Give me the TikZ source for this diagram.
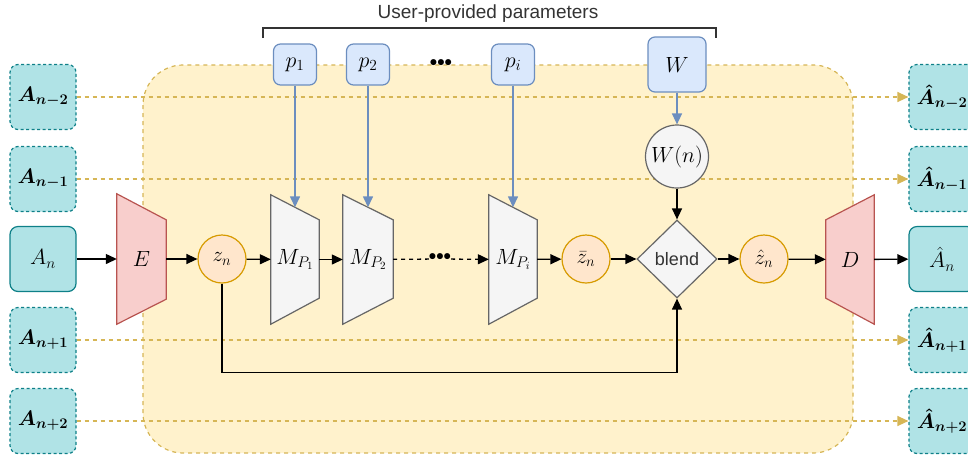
\RequirePackage{fix-cm}
\documentclass[tikz,border=0pt]{standalone}
\usepackage{amsmath}
\usepackage{fontspec}
\newfontfamily\sansf{Liberation Sans}
\usetikzlibrary{arrows.meta,calc,shapes.geometric,backgrounds}
\definecolor{tealF}{HTML}{B0E3E6}
\definecolor{tealS}{HTML}{0E8088}
\definecolor{blueF}{HTML}{DAE8FC}
\definecolor{blueS}{HTML}{6C8EBF}
\definecolor{yelF}{HTML}{FFF2CC}
\definecolor{yelS}{HTML}{D6B656}
\definecolor{oraF}{HTML}{FFE6CC}
\definecolor{oraS}{HTML}{D79B00}
\definecolor{redF}{HTML}{F8CECC}
\definecolor{redS}{HTML}{B85450}
\definecolor{grayF}{HTML}{F5F5F5}
\definecolor{grayS}{HTML}{666666}
\definecolor{txt}{HTML}{333333}
\tikzset{
  abox/.style={rounded corners=8pt, draw=tealS, fill=tealF, line width=1.2pt,
    minimum width=66pt, minimum height=65pt, inner sep=0pt, font=\fontsize{21}{25}\selectfont},
  dbox/.style={abox, dash pattern=on 3pt off 2.5pt},
  pbox/.style={rounded corners=7pt, draw=blueS, fill=blueF, line width=1.2pt,
    minimum width=43pt, minimum height=41pt, inner sep=0pt, font=\fontsize{22}{26}\selectfont},
  zcirc/.style={circle, draw=oraS, fill=oraF, line width=1.2pt, minimum size=48pt,
    inner sep=0pt, font=\fontsize{21}{25}\selectfont},
  trapbox/.style={minimum width=48pt, minimum height=129pt, inner sep=0pt,
    font=\fontsize{22}{26}\selectfont},
  redtrap/.style={draw=redS, fill=redF, line width=1.2pt},
  graytrap/.style={draw=grayS, fill=grayF, line width=1.2pt},
  blk/.style={draw=black, line width=1.3pt, -{Triangle[length=11pt,width=10pt]}},
  bluearr/.style={draw=blueS, line width=1.4pt, -{Triangle[length=11pt,width=10pt]}},
  yline/.style={draw=yelS, line width=1.3pt, dash pattern=on 4pt off 4pt,
    -{Triangle[length=11pt,width=10pt,fill=yelS]}},
  dotsnode/.style={inner sep=0pt, font=\sansf\bfseries\fontsize{21}{24}\selectfont},
}
\begin{document}
\begin{tikzpicture}[x=1pt,y=-1pt]
\useasboundingbox (0,0) rectangle (968,459);

% left boxes
\node[dbox] (am2) at (43,97) {$\boldsymbol{A_{n-2}}$};
\node[dbox] (am1) at (43,179) {$\boldsymbol{A_{n-1}}$};
\node[abox, font=\fontsize{22}{26}\selectfont] (a0) at (43,259) {$A_n$};
\node[dbox] (ap1) at (43,340) {$\boldsymbol{A_{n+1}}$};
\node[dbox] (ap2) at (43,421) {$\boldsymbol{A_{n+2}}$};
% right boxes
\node[dbox] (bm2) at (942,97) {$\boldsymbol{\hat{A}_{n-2}}$};
\node[dbox] (bm1) at (942,179) {$\boldsymbol{\hat{A}_{n-1}}$};
\node[abox, font=\fontsize{22}{26}\selectfont] (b0) at (942,259) {$\hat{A}_n$};
\node[dbox] (bp1) at (942,340) {$\boldsymbol{\hat{A}_{n+1}}$};
\node[dbox] (bp2) at (942,421) {$\boldsymbol{\hat{A}_{n+2}}$};

% encoder
\node[trapbox, minimum width=49pt, minimum height=130pt] (E) at (141.5,259) {};
\draw[redtrap] (E.north west) -- ($(E.north east)+(0pt,-26pt)$) -- ($(E.south east)+(0pt,25pt)$) -- (E.south west) -- cycle;
\node[font=\fontsize{22}{26}\selectfont] (Et) at (E) {$E$};

\node[zcirc] (zn) at (222,259) {$z_n$};

% mapping blocks
\node[trapbox] (M1) at (295,259.5) {};
\draw[graytrap] (M1.north west) -- ($(M1.north east)+(0pt,-25pt)$) -- ($(M1.south east)+(0pt,26pt)$) -- (M1.south west) -- cycle;
\node[font=\fontsize{22}{26}\selectfont] (M1t) at (M1) {$M_{P_1}$};
\coordinate (M1top) at ($(M1.north west)!0.5!($(M1.north east)+(0pt,-25pt)$)$);

\node[trapbox, minimum width=50pt] (M2) at (368,259.5) {};
\draw[graytrap] (M2.north west) -- ($(M2.north east)+(0pt,-25pt)$) -- ($(M2.south east)+(0pt,26pt)$) -- (M2.south west) -- cycle;
\node[font=\fontsize{22}{26}\selectfont] (M2t) at (M2) {$M_{P_2}$};
\coordinate (M2top) at ($(M2.north west)!0.5!($(M2.north east)+(0pt,-25pt)$)$);

\node[trapbox] (Mi) at (513,259.5) {};
\draw[graytrap] (Mi.north west) -- ($(Mi.north east)+(0pt,-25pt)$) -- ($(Mi.south east)+(0pt,26pt)$) -- (Mi.south west) -- cycle;
\node[font=\fontsize{22}{26}\selectfont] (Mit) at (Mi) {$M_{P_i}$};
\coordinate (Mitop) at ($(Mi.north west)!0.5!($(Mi.north east)+(0pt,-25pt)$)$);

\node[dotsnode] (dots2) at (440,259) {•••};

\node[zcirc] (zb) at (586,259) {$\bar{z}_n$};
\node[diamond, draw=grayS, fill=grayF, line width=1.2pt, minimum width=80pt, minimum height=78pt,
  inner sep=0pt, text=txt, font=\sansf\fontsize{18}{20}\selectfont] (blend) at (677,259) {blend};
\node[zcirc] (zh) at (764,259) {$\hat{z}_n$};

% decoder
\node[trapbox] (D) at (850,259.5) {};
\draw[redtrap] ($(D.north west)+(0pt,-25pt)$) -- (D.north east) -- (D.south east) -- ($(D.south west)+(0pt,26pt)$) -- cycle;
\node[font=\fontsize{22}{26}\selectfont] (Dt) at (D) {$D$};

% parameters
\node[pbox] (p1) at (295,64.5) {$p_1$};
\node[pbox] (p2) at (368,64.5) {$p_2$};
\node[pbox] (pi) at (513,64.5) {$p_i$};
\node[dotsnode] (dots1) at (441,65) {•••};
\node[pbox, minimum width=58pt, minimum height=55pt] (W) at (677,64.5) {$W$};
\node[circle, draw=grayS, fill=grayF, line width=1.2pt, minimum size=63pt, inner sep=0pt,
  font=\fontsize{22}{26}\selectfont] (Wn) at (677,156.5) {$W(n)$};

% bracket and title
\node[text=txt, font=\sansf\fontsize{19}{22}\selectfont] (title) at (488,14) {User-provided parameters};
\coordinate (brl) at (263,38);
\coordinate (brr) at (716,38);
\draw[txt, line width=1.3pt] (brl) -- ++(0pt,10pt) -| (brr);

% connectors
\draw[blk] (a0) -- (E);
\draw[blk] (E) -- (zn);
\draw[blk] (zn) -- (M1);
\draw[blk] (M1) -- (M2);
\draw[black, line width=1.3pt, dash pattern=on 4pt off 4pt] (M2) -- (dots2);
\draw[blk, dash pattern=on 4pt off 4pt] (dots2) -- (Mi);
\draw[blk] (Mi) -- (zb);
\draw[blk] (zb) -- (blend);
\draw[blk] (blend) -- (zh);
\draw[blk] (zh) -- (D);
\draw[blk] (D) -- (b0);
\draw[blk] (Wn) -- (blend);
\draw[blk] (zn.south) |- ($(blend.south)+(0pt,-74pt)$) -- (blend.south);
\draw[bluearr] (p1.south) -- (p1.south |- M1top);
\draw[bluearr] (p2.south) -- (p2.south |- M2top);
\draw[bluearr] (pi.south) -- (pi.south |- Mitop);
\draw[bluearr] (W) -- (Wn);

\begin{pgfonlayer}{background}
  \draw[draw=yelS, fill=yelF, line width=1.2pt, dash pattern=on 4pt off 4pt, rounded corners=40pt]
    (143,65) rectangle (853,453);
  \draw[yline] (am2) -- (bm2);
  \draw[yline] (am1) -- (bm1);
  \draw[yline] (ap1) -- (bp1);
  \draw[yline] (ap2) -- (bp2);
\end{pgfonlayer}
\end{tikzpicture}
\end{document}
